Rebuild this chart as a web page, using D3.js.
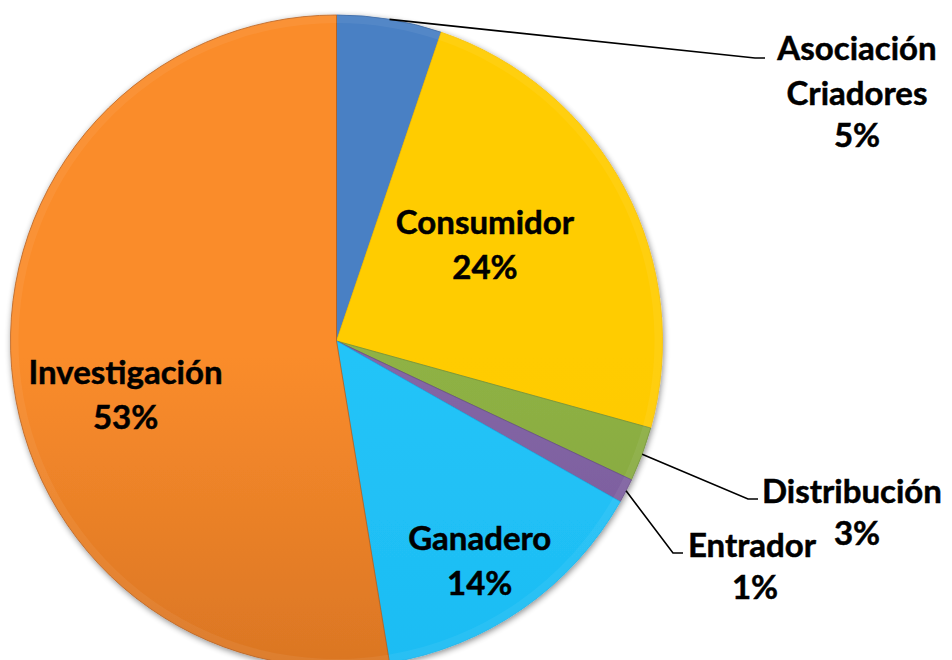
<!DOCTYPE html>
<html>
<head>
<meta charset="utf-8">
<script src="https://cdn.jsdelivr.net/npm/d3@7"></script>
<style>
  html, body { margin: 0; padding: 0; background: #fff; }
  svg text { font-family: Lato, "Open Sans", sans-serif; font-weight: bold; fill: #000; stroke: #000; stroke-width: 0.5px; }
</style>
</head>
<body>
<svg id="chart" width="952" height="660"></svg>
<script>
// slice data (percent), in clockwise order from 12 o'clock
var categories = ["Asociación Criadores", "Consumidor", "Distribución", "Entrador", "Ganadero", "Investigación"];
var values = [5.2, 24.1, 2.7, 1.2, 14.2, 52.6];
var pctLabels = ["5%", "24%", "3%", "1%", "14%", "53%"];

var colorTop = ["#4a80c4", "#ffcc00", "#8fb244", "#8466a6", "#24c4f8", "#fa8c2c"];
var colorBottom = ["#3462a0", "#f8c000", "#72923a", "#694e8a", "#14b4ee", "#b85e1a"];

var cx = 336.5, cy = 341, radius = 326;
var fontSize = 33, lineH = 45;

// label layout: inside labels by angle(deg)/radius, outside ones by leader elbow + text anchor
var inside = {
  "Consumidor": {a: 57.5, r: 176},
  "Ganadero": {a: 147, r: 263},
  "Investigación": {a: 255.4, r: 218}
};
var outside = {
  "Asociación Criadores": {elbow: [755, 58], tx: 857, ty: 60, lines: ["Asociación", "Criadores"], anchor: "middle", px: 857},
  "Distribución": {elbow: [748, 499], tx: 762, ty: 503, lines: ["Distribución"], anchor: "start", px: 857},
  "Entrador": {elbow: [673, 553], tx: 688, ty: 557, lines: ["Entrador"], anchor: "start", px: 755}
};

var svg = d3.select("#chart");
var defs = svg.append("defs");

var shadow = defs.append("filter").attr("id", "shadow")
  .attr("x", "-10%").attr("y", "-10%").attr("width", "120%").attr("height", "120%");
shadow.append("feGaussianBlur").attr("in", "SourceAlpha").attr("stdDeviation", 3);
shadow.append("feOffset").attr("dx", 1).attr("dy", 2).attr("result", "blur");
shadow.append("feComponentTransfer").append("feFuncA").attr("type", "linear").attr("slope", 0.45);
var merge = shadow.append("feMerge");
merge.append("feMergeNode");
merge.append("feMergeNode").attr("in", "SourceGraphic");

categories.forEach(function(c, i) {
  var g = defs.append("linearGradient").attr("id", "grad" + i)
    .attr("gradientUnits", "userSpaceOnUse")
    .attr("x1", 0).attr("y1", cy - radius).attr("x2", 0).attr("y2", cy + radius);
  g.append("stop").attr("offset", "0%").attr("stop-color", colorTop[i]);
  g.append("stop").attr("offset", "100%").attr("stop-color", colorBottom[i]);
});

var pie = d3.pie().value(function(d) { return d; }).sort(null);
var arcs = pie(values);

var arc = d3.arc().innerRadius(0).outerRadius(radius);
var bevel = d3.arc().innerRadius(radius - 8).outerRadius(radius);

var g = svg.append("g").attr("transform", "translate(" + cx + "," + cy + ")");

var slices = g.append("g").attr("filter", "url(#shadow)");
slices.selectAll("path.slice")
  .data(arcs)
  .enter()
  .append("path")
  .attr("class", "slice")
  .attr("d", arc)
  .attr("fill", function(d, i) { return "url(#grad" + i + ")"; })
  .attr("stroke", function(d, i) { return colorBottom[i]; })
  .attr("stroke-width", 0.8);

// soft highlight near the rim (bevel look)
g.selectAll("path.rim")
  .data(arcs)
  .enter()
  .append("path")
  .attr("class", "rim")
  .attr("d", bevel)
  .attr("fill", "#ffffff")
  .attr("fill-opacity", 0.06);

function point(angleDeg, r) {
  var a = angleDeg * Math.PI / 180;
  return [r * Math.sin(a), -r * Math.cos(a)];
}

// inside labels
arcs.forEach(function(d, i) {
  var lay = inside[categories[i]];
  if (!lay) return;
  var p = point(lay.a, lay.r);
  var t = g.append("text")
    .attr("text-anchor", "middle")
    .attr("font-size", fontSize)
    .attr("x", p[0]).attr("y", p[1] - 12);
  t.append("tspan").attr("x", p[0]).text(categories[i]);
  t.append("tspan").attr("x", p[0]).attr("dy", lineH).text(pctLabels[i]);
});

// outside labels with leader lines
arcs.forEach(function(d, i) {
  var lay = outside[categories[i]];
  if (!lay) return;
  var mid = (d.startAngle + d.endAngle) / 2;
  var start = [cx + radius * Math.sin(mid), cy - radius * Math.cos(mid)];
  svg.append("polyline")
    .attr("points", [start, lay.elbow, [lay.elbow[0] + 10, lay.elbow[1]]].map(function(p) { return p.join(","); }).join(" "))
    .attr("fill", "none")
    .attr("stroke", "#000")
    .attr("stroke-width", 1.6);
  lay.lines.forEach(function(line, k) {
    svg.append("text")
      .attr("x", lay.tx).attr("y", lay.ty + k * lineH)
      .attr("text-anchor", lay.anchor)
      .attr("font-size", fontSize)
      .text(line);
  });
  svg.append("text")
    .attr("x", lay.px).attr("y", lay.ty + lay.lines.length * lineH - 3)
    .attr("text-anchor", "middle")
    .attr("font-size", fontSize)
    .text(pctLabels[i]);
});
</script>
</body>
</html>
